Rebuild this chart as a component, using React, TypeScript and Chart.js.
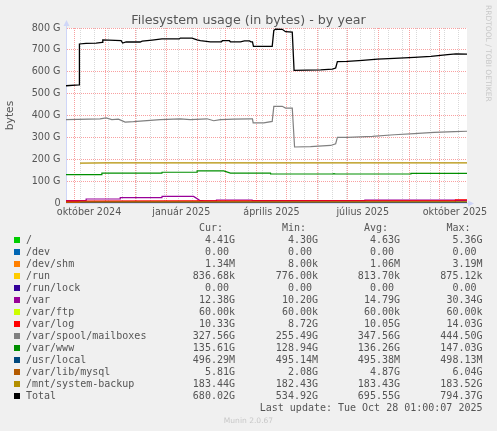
import React, { useEffect, useRef } from 'react';
import { Chart, registerables } from 'chart.js';

Chart.register(...registerables);

// ---- time axis (days since 2024-09-23) ----
const START_UTC = Date.UTC(2024, 8, 23);
const DAY_MS = 86400000;
const dayOf = (y: number, m: number, d: number) => (Date.UTC(y, m - 1, d) - START_UTC) / DAY_MS;
const X_MAX_DAY = 400;

const monthStarts: [number, number][] = [
  [2024, 10], [2024, 11], [2024, 12], [2025, 1], [2025, 2], [2025, 3], [2025, 4],
  [2025, 5], [2025, 6], [2025, 7], [2025, 8], [2025, 9], [2025, 10],
];
const axisLabels = ['október 2024', 'január 2025', 'április 2025', 'július 2025', 'október 2025'];
const axisLabelDates: [number, number, number][] = [
  [2024, 10, 16], [2025, 1, 16], [2025, 4, 16], [2025, 7, 16], [2025, 10, 16],
];
const firstMinorGrid: [number, number, number] = [2024, 10, 7];
const MINOR_GRID_STEP_DAYS = 14;

// ---- y axis ----
const Y_MAX = 800;
const Y_STEP = 50;
const Y_LABEL_STEP = 100;

// ---- series [day, value in G] ----
const rootFs: [number, number][] = [[0, 5.2], [200, 4.6], [400, 4.4]];
const devFs: [number, number][] = [[0, 0], [400, 0]];
const devShm: [number, number][] = [[0, 0.001], [400, 0.0013]];
const runFs: [number, number][] = [[0, 0.0008], [400, 0.0008]];
const runLock: [number, number][] = [[0, 0], [400, 0]];
const varFs: [number, number][] = [
  [0, 10.5], [20, 10.5], [20.1, 18.3], [54, 18.3], [54.1, 24.2], [95.7, 24.2], [95.8, 30.2],
  [127.3, 30.2], [133.3, 12], [138, 10.2], [150, 10.2], [150.1, 13.7], [185.7, 13.7],
  [185.8, 10.5], [298, 10.5], [298.1, 13.5], [388.3, 13.5], [388.4, 12.4], [400, 12.4],
];
const varFtp: [number, number][] = [[0, 0.00006], [400, 0.00006]];
const varLog: [number, number][] = [[0, 8.8], [120, 9.5], [250, 10.2], [388, 10.4], [388.5, 14], [400, 14]];
const mailboxes: [number, number][] = [
  [0, 381], [34, 385], [40, 389], [45.7, 381], [52.3, 383], [59, 370], [67.3, 372], [80.7, 377],
  [94, 381], [114, 385], [124, 381], [140.7, 385], [147.3, 376], [154, 381], [167.3, 383],
  [184, 385], [186, 385], [186.7, 366], [197.3, 366], [205.7, 373], [207.3, 442], [215.7, 442],
  [219, 434], [225.7, 434], [228, 256], [244, 258], [264, 263], [269, 271], [270.7, 300],
  [280.7, 300], [305.7, 305], [327.3, 312], [347.3, 317], [367.3, 323], [387.3, 326], [400, 328],
];
const varWww: [number, number][] = [
  [0, 129.4], [35.7, 129.4], [35.8, 137], [95.7, 137], [95.8, 140.5], [130.7, 140.5],
  [130.8, 147], [157.3, 147], [164, 137], [204, 137], [204.1, 132.6], [265.7, 132.6],
  [267.3, 134], [269, 132.6], [344, 132.6], [344.1, 135.6], [400, 135.6],
];
const usrLocal: [number, number][] = [[0, 0.495], [400, 0.496]];
const varLibMysql: [number, number][] = [[0, 2.1], [13, 2.1], [13.5, 5.0], [200, 5.0], [400, 5.8]];
const systemBackup: [number, number][] = [[14, 182.5], [40, 183.4], [400, 183.4]];
const total: [number, number][] = [
  [0, 536], [13, 540], [13.4, 727], [20, 730], [30, 731], [36, 734], [36.7, 746], [55, 742],
  [56.5, 731], [60, 736], [74, 736], [76, 740], [86, 745], [95.7, 750], [113, 750], [114, 754],
  [125.7, 754], [130.7, 746], [134, 742], [144, 737], [155, 737], [156, 742], [163, 742],
  [164, 737], [174, 737], [178, 741], [183, 741], [184.5, 737], [186, 737], [187, 716],
  [205.7, 716], [207.3, 789], [209, 795], [215.7, 794], [219, 783], [225.7, 781], [227.5, 606],
  [254, 609], [265.7, 612], [269, 617], [270.7, 646], [280.7, 647], [295.7, 652], [310.7, 658],
  [327.3, 661], [347.3, 666], [364, 670], [380.7, 678], [389, 682], [400, 681],
];

const seriesData = [
  rootFs, devFs, devShm, runFs, runLock, varFs, varFtp, varLog,
  mailboxes, varWww, usrLocal, varLibMysql, systemBackup, total,
];
const seriesNames = [
  '/', '/dev', '/dev/shm', '/run', '/run/lock', '/var', '/var/ftp', '/var/log',
  '/var/spool/mailboxes', '/var/www', '/usr/local', '/var/lib/mysql', '/mnt/system-backup', 'Total',
];
const seriesColors = [
  '#00CC00', '#0066B3', '#FF8000', '#FFCC00', '#330099', '#990099', '#CCFF00', '#FF0000',
  '#808080', '#008F00', '#00487D', '#B35A00', '#B38F00', '#000000',
];
const curCol = ['4.41G', '0.00', '1.34M', '836.68k', '0.00', '12.38G', '60.00k', '10.33G', '327.56G', '135.61G', '496.29M', '5.81G', '183.44G', '680.02G'];
const minCol = ['4.30G', '0.00', '8.00k', '776.00k', '0.00', '10.20G', '60.00k', '8.72G', '255.49G', '128.94G', '495.14M', '2.08G', '182.43G', '534.92G'];
const avgCol = ['4.63G', '0.00', '1.06M', '813.70k', '0.00', '14.79G', '60.00k', '10.05G', '347.56G', '136.26G', '495.38M', '4.87G', '183.43G', '695.55G'];
const maxCol = ['5.36G', '0.00', '3.19M', '875.12k', '0.00', '30.34G', '60.00k', '14.03G', '444.50G', '147.03G', '498.13M', '6.04G', '183.52G', '794.37G'];
const colHeaders = ['Cur:', 'Min:', 'Avg:', 'Max:'];
const lastUpdate = 'Last update: Tue Oct 28 01:00:07 2025';

// ---- styles ----
const W = 497;
const H = 431;
const FONT_COLOR = '#555555';
const AXIS_COLOR = '#CFD6F8';
const MGRID = 'rgba(245,128,128,0.75)';
const GRID = 'rgba(186,186,186,0.55)';
const SANS = "'DejaVu Sans', sans-serif";
const MONO = "'DejaVu Sans Mono', monospace";
const COL_RIGHT = [235, 318, 400, 482.5];
const ROW_TOP0 = 234;
const ROW_H = 12;

const monthDays = monthStarts.map(([y, m]) => dayOf(y, m, 1));
const minorDays: number[] = [];
for (let d = dayOf(...firstMinorGrid); d <= X_MAX_DAY; d += MINOR_GRID_STEP_DAYS) minorDays.push(d);
const labelDays = axisLabelDates.map(([y, m, d]) => dayOf(y, m, d));
const monthSet = new Set(monthDays);
const minorSet = new Set(minorDays);
const labelMap = new Map<number, string>(labelDays.map((d, i) => [d, axisLabels[i]]));
const xTickValues = Array.from(new Set([...monthDays, ...minorDays, ...labelDays])).sort((a, b) => a - b);

const decorPlugin = {
  id: 'muninDecor',
  beforeDraw(chart: any) {
    const { ctx, chartArea: a, width, height } = chart;
    ctx.save();
    ctx.fillStyle = '#F0F0F0';
    ctx.fillRect(0, 0, width, height);
    ctx.fillStyle = '#FFFFFF';
    ctx.fillRect(a.left, a.top, a.right - a.left, a.bottom - a.top);
    ctx.restore();
  },
  afterDraw(chart: any) {
    const { ctx, chartArea: a } = chart;
    ctx.save();
    ctx.strokeStyle = AXIS_COLOR;
    ctx.fillStyle = AXIS_COLOR;
    ctx.lineWidth = 1;
    const x0 = Math.round(a.left) + 0.5;
    const y0 = Math.round(a.bottom) + 0.5;
    ctx.beginPath();
    ctx.moveTo(x0, a.top);
    ctx.lineTo(x0, a.top - 4);
    ctx.moveTo(a.right, y0);
    ctx.lineTo(a.right + 2, y0);
    ctx.stroke();
    ctx.beginPath();
    ctx.moveTo(x0 - 3, a.top - 2);
    ctx.lineTo(x0 + 3, a.top - 2);
    ctx.lineTo(x0, a.top - 8);
    ctx.closePath();
    ctx.fill();
    ctx.beginPath();
    ctx.moveTo(a.right + 1, y0 - 3);
    ctx.lineTo(a.right + 1, y0 + 3);
    ctx.lineTo(a.right + 7, y0);
    ctx.closePath();
    ctx.fill();
    ctx.restore();
  },
};

export default function App() {
  const canvasRef = useRef<HTMLCanvasElement>(null);

  useEffect(() => {
    const canvas = canvasRef.current;
    if (!canvas) return;
    const n = seriesData.length;
    const chart = new Chart(canvas, {
      type: 'line',
      data: {
        datasets: seriesData.map((pts, i) => ({
          label: seriesNames[i],
          data: pts.map(([x, y]) => ({ x, y })),
          borderColor: seriesColors[i],
          backgroundColor: seriesColors[i],
          borderWidth: i === n - 1 ? 1.3 : 1.2,
          pointRadius: 0,
          tension: 0,
          fill: false,
          order: n - i,
        })),
      },
      options: {
        responsive: false,
        animation: false,
        events: [],
        layout: { padding: { left: 0, top: 28, right: W - 467, bottom: H - 203 - 20 } },
        plugins: {
          legend: { display: false },
          tooltip: { enabled: false },
          title: { display: false },
        },
        scales: {
          x: {
            type: 'linear',
            min: 0,
            max: X_MAX_DAY,
            afterBuildTicks: (scale: any) => {
              scale.ticks = xTickValues.map((v) => ({ value: v }));
            },
            afterFit: (scale: any) => {
              scale.height = 20;
            },
            grid: {
              drawTicks: false,
              lineWidth: 1,
              color: (ctx: any) => {
                const v = ctx.tick ? ctx.tick.value : NaN;
                if (monthSet.has(v)) return MGRID;
                if (minorSet.has(v)) return GRID;
                return 'rgba(0,0,0,0)';
              },
            },
            border: { color: AXIS_COLOR, width: 1, dash: [1, 1] },
            ticks: {
              autoSkip: false,
              maxRotation: 0,
              minRotation: 0,
              padding: 4,
              color: FONT_COLOR,
              font: { family: SANS, size: 9.6 },
              callback: (v: any) => labelMap.get(Number(v)) ?? '',
            },
          },
          y: {
            type: 'linear',
            min: 0,
            max: Y_MAX,
            afterFit: (scale: any) => {
              scale.width = 66;
            },
            grid: {
              drawTicks: false,
              lineWidth: 1,
              color: (ctx: any) => {
                const v = ctx.tick ? ctx.tick.value : NaN;
                if (v === 0) return 'rgba(0,0,0,0)';
                return v % Y_LABEL_STEP === 0 ? MGRID : GRID;
              },
            },
            border: { color: AXIS_COLOR, width: 1, dash: [1, 1] },
            ticks: {
              stepSize: Y_STEP,
              padding: 5.5,
              color: FONT_COLOR,
              font: { family: SANS, size: 9.6 },
              callback: (v: any) => {
                const num = Number(v);
                if (num % Y_LABEL_STEP !== 0) return '';
                return num === 0 ? '0' : `${num} G`;
              },
            },
            title: {
              display: true,
              text: 'bytes',
              color: FONT_COLOR,
              font: { family: SANS, size: 10.7 },
              padding: { top: 3.6, bottom: 0 },
            },
          },
        },
      },
      plugins: [decorPlugin],
    } as any);
    return () => chart.destroy();
  }, []);

  const cols = [curCol, minCol, avgCol, maxCol];
  const fmt = (s: string) => (/[0-9]$/.test(s) ? s + '\u00a0' : s);

  return (
    <div style={{ position: 'absolute', left: 0, top: 0, width: W, height: H, background: '#F0F0F0', overflow: 'hidden' }}>
      <canvas ref={canvasRef} width={W} height={H} style={{ position: 'absolute', left: 0, top: 0, width: W, height: H }} />
      <div style={{ position: 'absolute', left: 0, top: 12.4, width: W, textAlign: 'center', fontFamily: SANS, fontSize: 12.7, lineHeight: '15px', color: FONT_COLOR, whiteSpace: 'pre' }}>
        Filesystem usage (in bytes) - by year
      </div>
      <div style={{ position: 'absolute', left: 483.5, top: 5, writingMode: 'vertical-rl', fontFamily: SANS, fontSize: 7.5, lineHeight: '8px', color: '#C8C8C8', whiteSpace: 'pre' }}>
        RRDTOOL / TOBI OETIKER
      </div>
      {colHeaders.map((h, c) => (
        <div key={'h' + c} style={{ position: 'absolute', right: W - COL_RIGHT[c] + 12.04, top: ROW_TOP0 - 12.5, fontFamily: MONO, fontSize: 10, lineHeight: '12px', color: FONT_COLOR, whiteSpace: 'pre' }}>
          {h}
        </div>
      ))}
      {seriesNames.map((name, i) => (
        <React.Fragment key={name}>
          <div style={{ position: 'absolute', left: 14, top: 237 + ROW_H * i, width: 6, height: 6, background: seriesColors[i] }} />
          <div style={{ position: 'absolute', left: 26, top: ROW_TOP0 + ROW_H * i, fontFamily: MONO, fontSize: 10, lineHeight: '12px', color: FONT_COLOR, whiteSpace: 'pre' }}>
            {name}
          </div>
          {cols.map((col, c) => (
            <div key={c} style={{ position: 'absolute', right: W - COL_RIGHT[c], top: ROW_TOP0 + ROW_H * i, fontFamily: MONO, fontSize: 10, lineHeight: '12px', color: FONT_COLOR, whiteSpace: 'pre' }}>
              {fmt(col[i])}
            </div>
          ))}
        </React.Fragment>
      ))}
      <div style={{ position: 'absolute', right: W - COL_RIGHT[3], top: ROW_TOP0 + ROW_H * 14, fontFamily: MONO, fontSize: 10, lineHeight: '12px', color: FONT_COLOR, whiteSpace: 'pre' }}>
        {lastUpdate}
      </div>
      <div style={{ position: 'absolute', left: 0, top: 415.9, width: W, textAlign: 'center', fontFamily: SANS, fontSize: 7.55, lineHeight: '9px', color: '#C8C8C8', whiteSpace: 'pre' }}>
        Munin 2.0.67
      </div>
    </div>
  );
}
